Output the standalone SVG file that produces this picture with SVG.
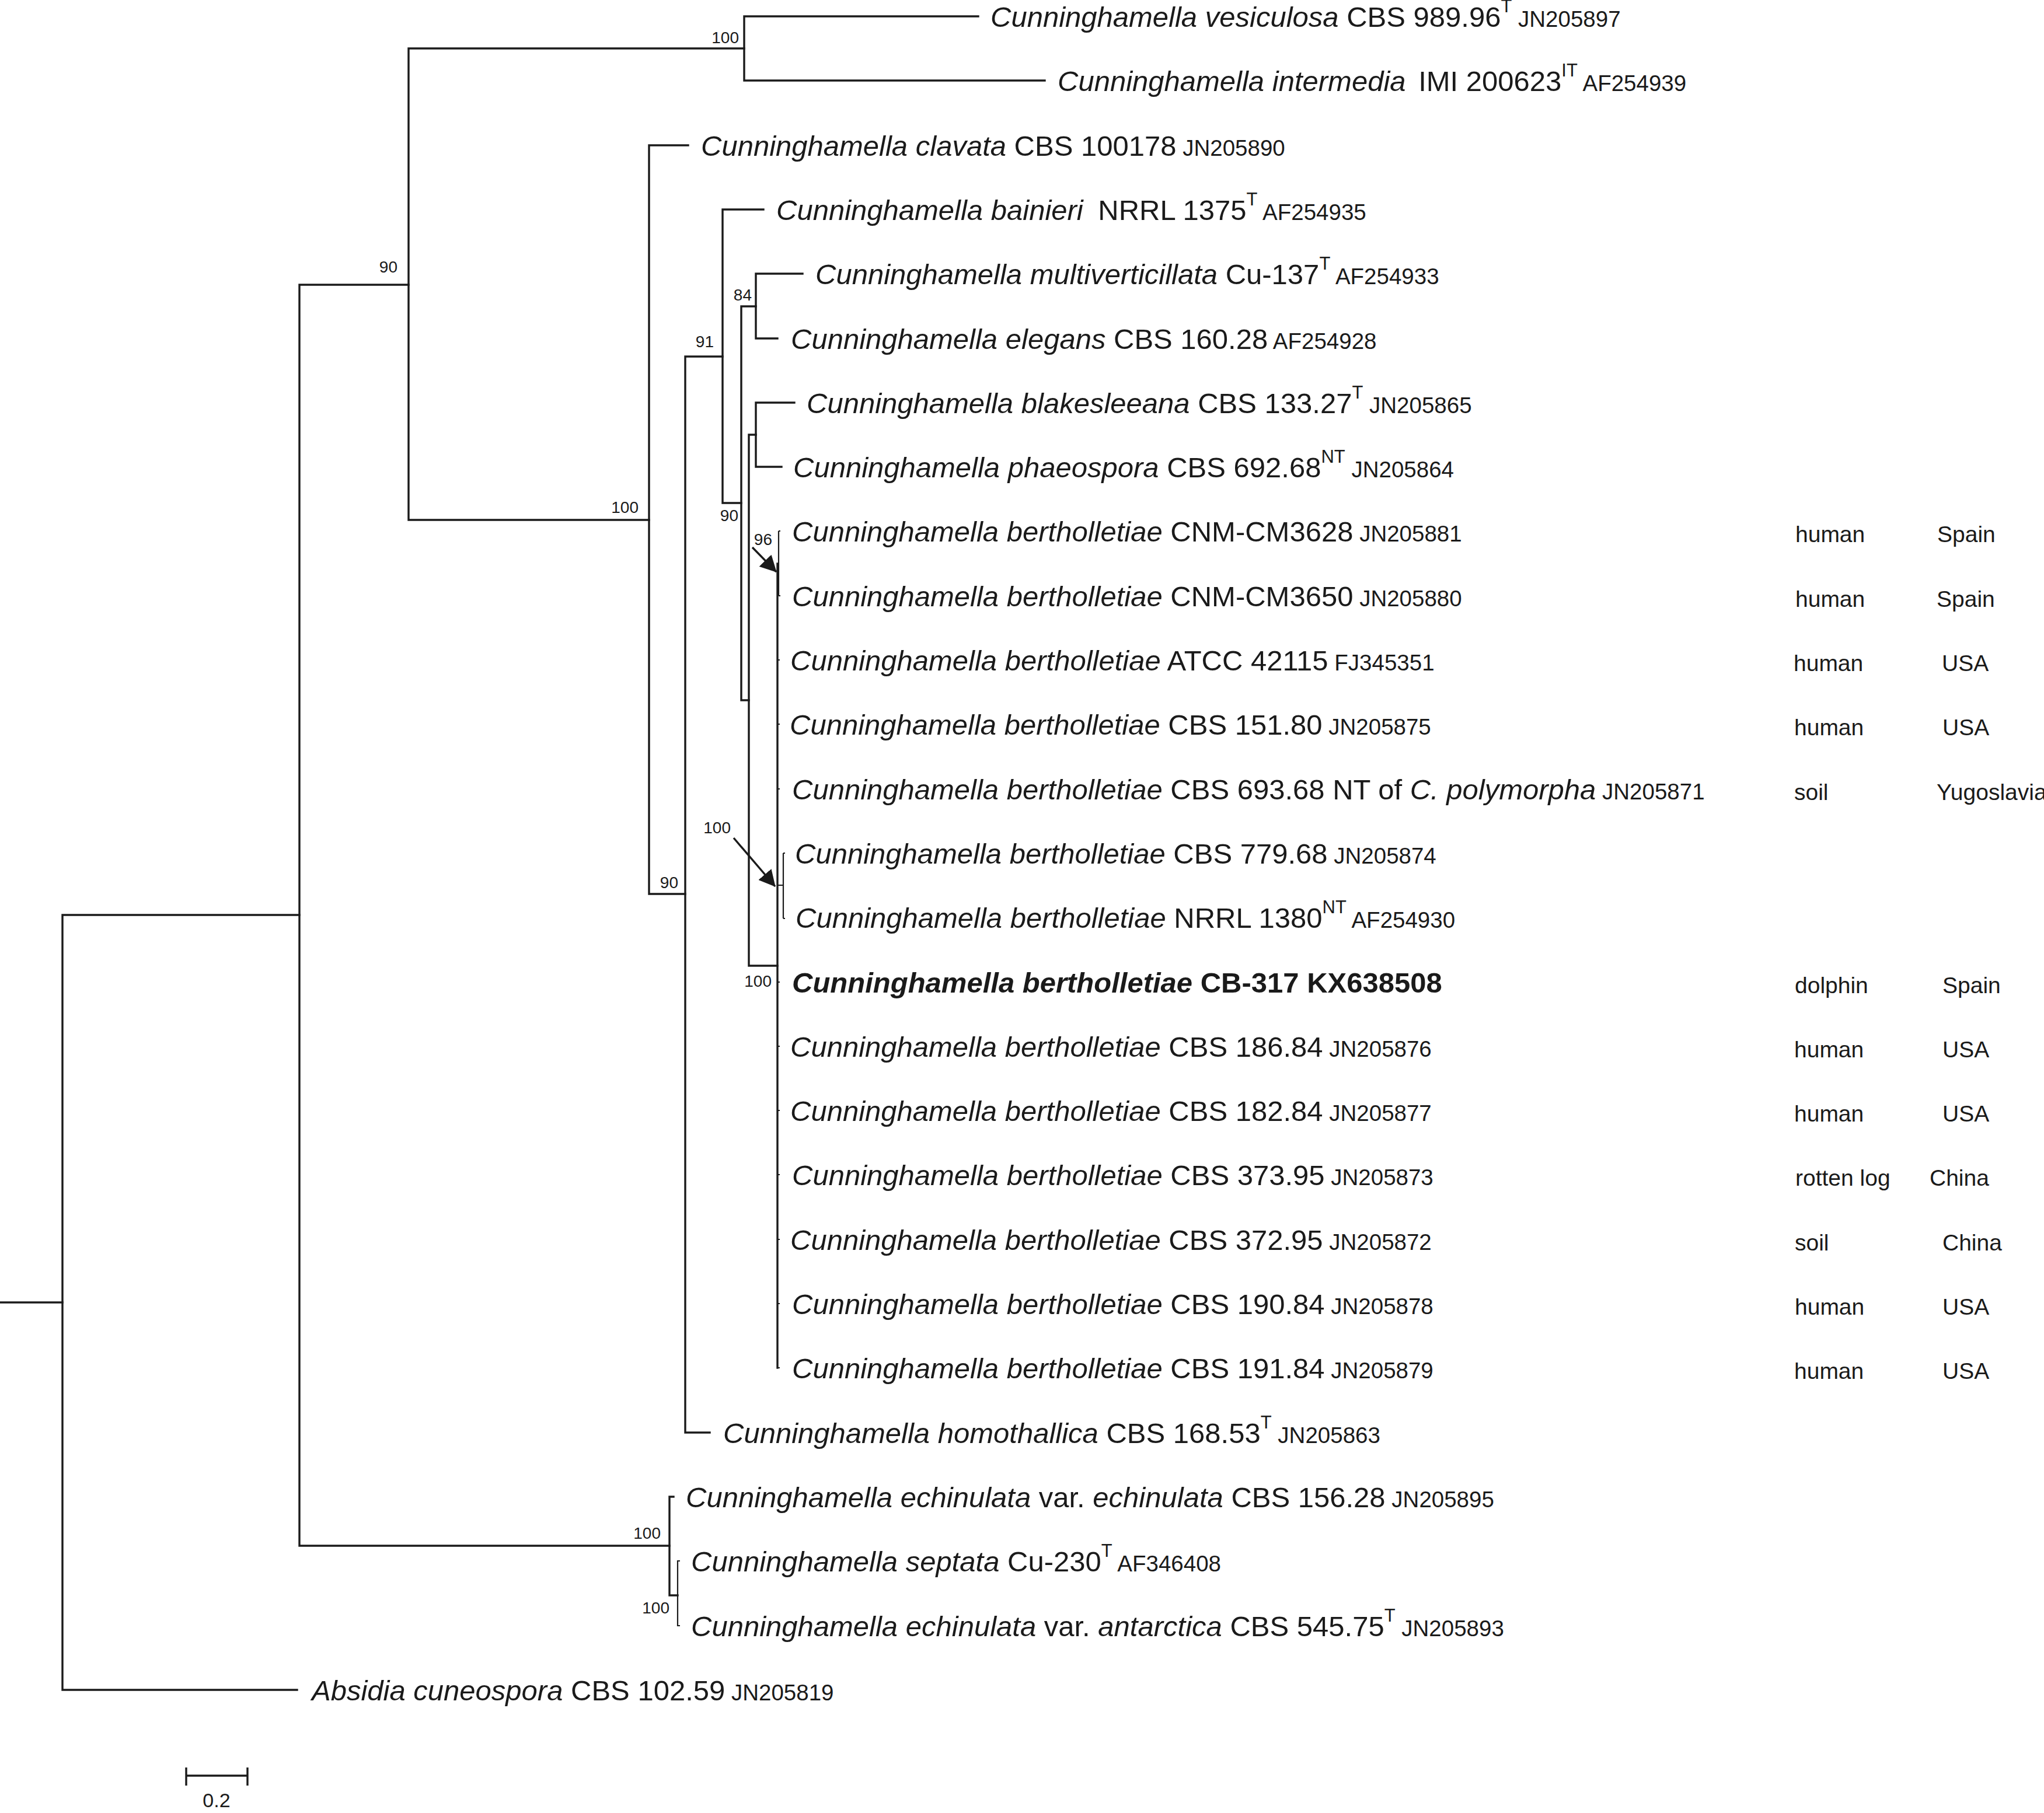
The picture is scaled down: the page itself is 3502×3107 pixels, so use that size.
<svg xmlns="http://www.w3.org/2000/svg" width="3502" height="3107" viewBox="0 0 3502 3107">
<style>
text{font-family:"Liberation Sans",Arial,Helvetica,sans-serif;fill:#1a1a1a}
.lab{font-size:49px}
.i{font-style:italic}
.acc{font-size:38.5px}
.sup{font-size:31px}
.meta{font-size:39px}
.bs{font-size:28px;text-anchor:end}
.br{fill:none;stroke:#1a1a1a;stroke-width:3.4;stroke-linejoin:miter;stroke-linecap:square}
.thin{fill:none;stroke:#1a1a1a;stroke-width:2.2;stroke-linecap:butt}
.arr{fill:none;stroke:#1a1a1a;stroke-width:3.4}
</style>
<defs>
<marker id="ah" viewBox="0 0 28 29" refX="27" refY="14.5" markerWidth="28" markerHeight="29" markerUnits="userSpaceOnUse" orient="auto">
<path d="M0,0 L28,14.5 L0,29 Z" fill="#1a1a1a"/>
</marker>
</defs>
<rect width="3502" height="3107" fill="#ffffff"/>

<g id="connectors">
<path class="br" d="M0,2232 H107"/>
<path class="br" d="M513,1568 H107 V2896 H509"/>
<path class="br" d="M700,488 H513 V2649 H1147"/>
<path class="br" d="M1275,83 H700 V891 H1112"/>
<path class="br" d="M1676,28 H1275 V138 H1790"/>
<path class="br" d="M1179,249 H1112 V1532 H1174"/>
<path class="br" d="M1238,611 H1174 V2455 H1216"/>
<path class="br" d="M1308,359 H1238 V862 H1270"/>
<path class="br" d="M1295,525 H1270 V1200 H1283"/>
<path class="br" d="M1375,469 H1295 V580 H1332"/>
<path class="br" d="M1295,745 H1283 V1655 H1332"/>
<path class="br" d="M1361,690 H1295 V800 H1339"/>
<path class="br" d="M1332,966 V2344"/>
<path class="thin" d="M1332,966 H1334 M1334,910 V1021 M1334,910 H1337 M1334,1021 H1337"/>
<path class="thin" d="M1332,1131 h4 M1332,1241 h4 M1332,1352 h4 M1332,1683 h4 M1332,1793 h4 M1332,1903 h4 M1332,2013 h4 M1332,2124 h4 M1332,2234 h4 M1332,2344 h4"/>
<path class="thin" d="M1332,1517 H1342 M1342,1462 V1574 M1342,1462 h3 M1342,1574 h3"/>
<path class="br" d="M1154,2565 H1147 V2734 H1161"/>
<path class="thin" d="M1165,2675 H1161 V2786 H1165"/>
<path class="arr" d="M1289,938 L1330,980" marker-end="url(#ah)"/>
<path class="arr" d="M1257,1436 L1328,1519" marker-end="url(#ah)"/>
</g>

<g id="support">
<text class="bs" x="1266" y="74">100</text>
<text class="bs" x="681" y="467">90</text>
<text class="bs" x="1094" y="879">100</text>
<text class="bs" x="1223" y="595">91</text>
<text class="bs" x="1288" y="515">84</text>
<text class="bs" x="1265" y="893">90</text>
<text class="bs" x="1323" y="934">96</text>
<text class="bs" x="1252" y="1428">100</text>
<text class="bs" x="1162" y="1522">90</text>
<text class="bs" x="1322" y="1691">100</text>
<text class="bs" x="1132" y="2637">100</text>
<text class="bs" x="1147" y="2765">100</text>
</g>

<g id="t-vesiculosa"><text class="lab" x="1697" y="46"><tspan class="i">Cunninghamella vesiculosa</tspan> CBS 989.96<tspan class="sup" dy="-25">T</tspan><tspan class="acc" dy="25"> JN205897</tspan></text></g>
<g id="t-intermedia"><text class="lab" x="1812" y="156"><tspan class="i">Cunninghamella intermedia</tspan><tspan dx="8"> IMI 200623</tspan><tspan class="sup" dy="-25">IT</tspan><tspan class="acc" dy="25"> AF254939</tspan></text></g>
<g id="t-clavata"><text class="lab" x="1201" y="267"><tspan class="i">Cunninghamella clavata</tspan> CBS 100178<tspan class="acc"> JN205890</tspan></text></g>
<g id="t-bainieri"><text class="lab" x="1330" y="377"><tspan class="i">Cunninghamella bainieri</tspan><tspan dx="12"> NRRL 1375</tspan><tspan class="sup" dy="-25">T</tspan><tspan class="acc" dy="25"> AF254935</tspan></text></g>
<g id="t-multiverticillata"><text class="lab" x="1397" y="487"><tspan class="i">Cunninghamella multiverticillata</tspan> Cu-137<tspan class="sup" dy="-25">T</tspan><tspan class="acc" dy="25"> AF254933</tspan></text></g>
<g id="t-elegans"><text class="lab" x="1355" y="598"><tspan class="i">Cunninghamella elegans</tspan> CBS 160.28<tspan class="acc"> AF254928</tspan></text></g>
<g id="t-blakesleeana"><text class="lab" x="1382" y="708"><tspan class="i">Cunninghamella blakesleeana</tspan> CBS 133.27<tspan class="sup" dy="-25">T</tspan><tspan class="acc" dy="25"> JN205865</tspan></text></g>
<g id="t-phaeospora"><text class="lab" x="1359" y="818"><tspan class="i">Cunninghamella phaeospora</tspan> CBS 692.68<tspan class="sup" dy="-25">NT</tspan><tspan class="acc" dy="25"> JN205864</tspan></text></g>

<g id="t-cnm3628"><text class="lab" x="1357" y="928"><tspan class="i">Cunninghamella bertholletiae</tspan> CNM-CM3628<tspan class="acc"> JN205881</tspan></text><text class="meta" x="3076" y="929">human</text><text class="meta" x="3319" y="929">Spain</text></g>
<g id="t-cnm3650"><text class="lab" x="1357" y="1039"><tspan class="i">Cunninghamella bertholletiae</tspan> CNM-CM3650<tspan class="acc"> JN205880</tspan></text><text class="meta" x="3076" y="1040">human</text><text class="meta" x="3318" y="1040">Spain</text></g>
<g id="t-atcc42115"><text class="lab" x="1354" y="1149"><tspan class="i">Cunninghamella bertholletiae</tspan> ATCC 42115<tspan class="acc"> FJ345351</tspan></text><text class="meta" x="3073" y="1150">human</text><text class="meta" x="3327" y="1150">USA</text></g>
<g id="t-cbs15180"><text class="lab" x="1353" y="1259"><tspan class="i">Cunninghamella bertholletiae</tspan> CBS 151.80<tspan class="acc"> JN205875</tspan></text><text class="meta" x="3074" y="1260">human</text><text class="meta" x="3328" y="1260">USA</text></g>
<g id="t-cbs69368"><text class="lab" x="1357" y="1370"><tspan class="i">Cunninghamella bertholletiae</tspan> CBS 693.68 NT of <tspan class="i">C. polymorpha</tspan><tspan class="acc"> JN205871</tspan></text><text class="meta" x="3074" y="1371">soil</text><text class="meta" x="3318" y="1371">Yugoslavia</text></g>
<g id="t-cbs77968"><text class="lab" x="1362" y="1480"><tspan class="i">Cunninghamella bertholletiae</tspan> CBS 779.68<tspan class="acc"> JN205874</tspan></text></g>
<g id="t-nrrl1380"><text class="lab" x="1363" y="1590"><tspan class="i">Cunninghamella bertholletiae</tspan> NRRL 1380<tspan class="sup" dy="-25">NT</tspan><tspan class="acc" dy="25"> AF254930</tspan></text></g>
<g id="t-cb317"><text class="lab" x="1357" y="1701" font-weight="bold"><tspan class="i">Cunninghamella bertholletiae</tspan> CB-317 KX638508</text><text class="meta" x="3075" y="1702">dolphin</text><text class="meta" x="3328" y="1702">Spain</text></g>
<g id="t-cbs18684"><text class="lab" x="1354" y="1811"><tspan class="i">Cunninghamella bertholletiae</tspan> CBS 186.84<tspan class="acc"> JN205876</tspan></text><text class="meta" x="3074" y="1812">human</text><text class="meta" x="3328" y="1812">USA</text></g>
<g id="t-cbs18284"><text class="lab" x="1354" y="1921"><tspan class="i">Cunninghamella bertholletiae</tspan> CBS 182.84<tspan class="acc"> JN205877</tspan></text><text class="meta" x="3074" y="1922">human</text><text class="meta" x="3328" y="1922">USA</text></g>
<g id="t-cbs37395"><text class="lab" x="1357" y="2031"><tspan class="i">Cunninghamella bertholletiae</tspan> CBS 373.95<tspan class="acc"> JN205873</tspan></text><text class="meta" x="3076" y="2032">rotten log</text><text class="meta" x="3306" y="2032">China</text></g>
<g id="t-cbs37295"><text class="lab" x="1354" y="2142"><tspan class="i">Cunninghamella bertholletiae</tspan> CBS 372.95<tspan class="acc"> JN205872</tspan></text><text class="meta" x="3075" y="2143">soil</text><text class="meta" x="3328" y="2143">China</text></g>
<g id="t-cbs19084"><text class="lab" x="1357" y="2252"><tspan class="i">Cunninghamella bertholletiae</tspan> CBS 190.84<tspan class="acc"> JN205878</tspan></text><text class="meta" x="3075" y="2253">human</text><text class="meta" x="3328" y="2253">USA</text></g>
<g id="t-cbs19184"><text class="lab" x="1357" y="2362"><tspan class="i">Cunninghamella bertholletiae</tspan> CBS 191.84<tspan class="acc"> JN205879</tspan></text><text class="meta" x="3074" y="2363">human</text><text class="meta" x="3328" y="2363">USA</text></g>

<g id="t-homothallica"><text class="lab" x="1239" y="2473"><tspan class="i">Cunninghamella homothallica</tspan> CBS 168.53<tspan class="sup" dy="-25">T</tspan><tspan class="acc" dy="25"> JN205863</tspan></text></g>
<g id="t-echinulata"><text class="lab" x="1175" y="2583"><tspan class="i">Cunninghamella echinulata</tspan> var. <tspan class="i">echinulata</tspan> CBS 156.28<tspan class="acc"> JN205895</tspan></text></g>
<g id="t-septata"><text class="lab" x="1184" y="2693"><tspan class="i">Cunninghamella septata</tspan> Cu-230<tspan class="sup" dy="-25">T</tspan><tspan class="acc" dy="25"> AF346408</tspan></text></g>
<g id="t-antarctica"><text class="lab" x="1184" y="2804"><tspan class="i">Cunninghamella echinulata</tspan> var. <tspan class="i">antarctica</tspan> CBS 545.75<tspan class="sup" dy="-25">T</tspan><tspan class="acc" dy="25"> JN205893</tspan></text></g>
<g id="t-absidia"><text class="lab" x="534" y="2914"><tspan class="i">Absidia cuneospora</tspan> CBS 102.59<tspan class="acc"> JN205819</tspan></text></g>

<g id="scalebar">
<path class="br" d="M319,3043 H424 M319,3029 V3060 M424,3029 V3060" style="stroke-linecap:butt"/>
<text x="371" y="3097" font-size="34" text-anchor="middle">0.2</text>
</g>
</svg>
